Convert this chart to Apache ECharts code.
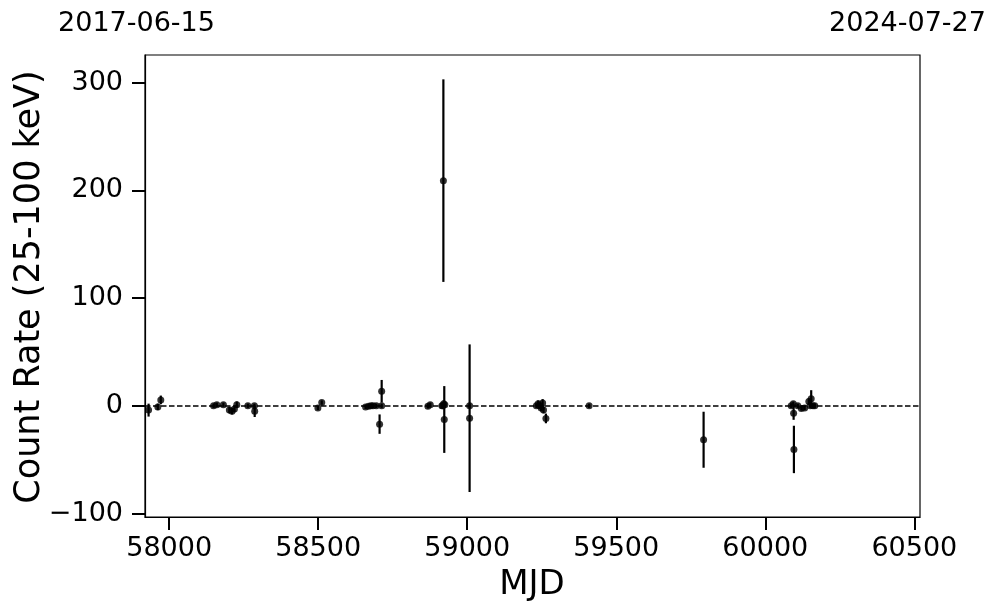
<!DOCTYPE html>
<html><head><meta charset="utf-8">
<script src="https://cdn.jsdelivr.net/npm/echarts@6/dist/echarts.min.js"></script>
<style>html,body{margin:0;padding:0;background:#fff}#c{width:997px;height:613px}</style>
</head><body><div id="c"></div>
<script>
// MJD of each measurement
const mjd = [57931, 57962, 57972,
  58149, 58160, 58182, 58202, 58211, 58219, 58227, 58264, 58286, 58287,
  58499, 58512,
  58659, 58669, 58677, 58684, 58695, 58706, 58713, 58713,
  58868, 58876, 58915, 58918, 58920, 58921, 58923, 58925,
  59008, 59008,
  59232, 59238, 59243, 59248, 59253, 59256, 59264, 59409,
  59793,
  60087, 60094, 60095, 60096, 60109, 60121, 60132, 60146, 60151, 60154, 60160, 60166];
// count rate (25-100 keV)
const rate = [-4, -1, 5.5,
  0, 1, 1, -4, -5, -3, 1, 0, 0, -5,
  -2, 3,
  -1, -0.5, 0, 0, 0, -17, 13.5, 0,
  -0.5, 1, 0, 0, 209, 2, -12.7, 1,
  0, -11.5,
  0, 2, 0, -2, 2.5, -4, -11.7, 0,
  -31.5,
  0, 2, -7, -40.5, 0, -2.5, -2, 4, 0, 6.5, 0, 0];
// 1-sigma errors
const err = [6, 3, 4,
  2, 2, 2, 3, 3, 3, 3, 2, 2, 5.4,
  2, 2,
  2, 2, 2, 2, 2, 9, 10.5, 2,
  2, 2, 2, 3, 94, 3, 31, 3,
  2, 68.5,
  2, 3, 3, 3, 3.7, 3, 4.5, 2,
  26,
  2, 2, 6, 22, 2, 2, 2, 3, 2, 8, 2, 2];
const xTicks = [58000, 58500, 59000, 59500, 60000, 60500];
const yTicks = [-100, 0, 100, 200, 300];
const xRange = [57919, 60519];
const yRange = [-103.2, 325.6];
const startDate = '2017-06-15';
const endDate = '2024-07-27';
const xName = 'MJD';
const yName = 'Count Rate (25-100 keV)';

const FONT = 'DejaVu Sans';
const chart = echarts.init(document.getElementById('c'), null, {renderer: 'canvas'});
const points = mjd.map((m, i) => [m, rate[i]]);
const bars = mjd.map((m, i) => [m, rate[i] - err[i], rate[i] + err[i]]);

function axisCommon(ticks) {
  return {
    axisLine: {show: true, onZero: false, lineStyle: {color: '#000', width: 1.2}},
    axisTick: {show: true, inside: false, length: 13, customValues: ticks, lineStyle: {color: '#000', width: 2}},
    splitLine: {show: false},
  };
}

chart.setOption({
  animation: false,
  backgroundColor: '#fff',
  grid: {left: 145, top: 55, width: 775, height: 462, show: true, borderColor: '#000', borderWidth: 1.2, backgroundColor: 'transparent'},
  xAxis: Object.assign({
    type: 'value', min: xRange[0], max: xRange[1],
    axisLabel: {customValues: xTicks, margin: 18, fontSize: 27, color: '#000', fontFamily: FONT,
      formatter: v => String(v)}
  }, axisCommon(xTicks)),
  yAxis: Object.assign({
    type: 'value', min: yRange[0], max: yRange[1],
    axisLabel: {customValues: yTicks, margin: 22, fontSize: 27, color: '#000', fontFamily: FONT,
      formatter: v => (v < 0 ? '\u2212' + Math.abs(v) : String(v))}
  }, axisCommon(yTicks)),
  series: [
    {
      type: 'custom',
      data: bars,
      encode: {x: 0, y: [1, 2]},
      clip: true,
      z: 3,
      renderItem: function (params, api) {
        const x = api.value(0);
        const p1 = api.coord([x, api.value(1)]);
        const p2 = api.coord([x, api.value(2)]);
        return {type: 'line', shape: {x1: p1[0], y1: p1[1], x2: p2[0], y2: p2[1]},
          style: {stroke: '#000', lineWidth: 2.2}};
      }
    },
    {
      type: 'scatter',
      data: points,
      symbol: 'circle',
      symbolSize: 7,
      itemStyle: {color: '#000'},
      z: 4,
      markLine: {
        silent: true, symbol: 'none', z: 2,
        label: {show: false},
        lineStyle: {color: '#000', width: 1.5, type: [5.5, 2.5]},
        data: [{yAxis: 0}]
      }
    }
  ],
  graphic: [
    {type: 'text', x: 136.5, y: 24, style: {text: startDate, fontSize: 27, fontFamily: FONT, fill: '#000', align: 'center', verticalAlign: 'middle'}},
    {type: 'text', x: 907.5, y: 24, style: {text: endDate, fontSize: 27, fontFamily: FONT, fill: '#000', align: 'center', verticalAlign: 'middle'}},
    {type: 'text', x: 532, y: 585, style: {text: xName, fontSize: 34, fontFamily: FONT, fill: '#000', align: 'center', verticalAlign: 'middle'}},
    {type: 'text', x: 30, y: 287, rotation: Math.PI / 2, style: {text: yName, fontSize: 35, fontFamily: FONT, fill: '#000', align: 'center', verticalAlign: 'middle'}}
  ]
});
</script>
</body></html>
